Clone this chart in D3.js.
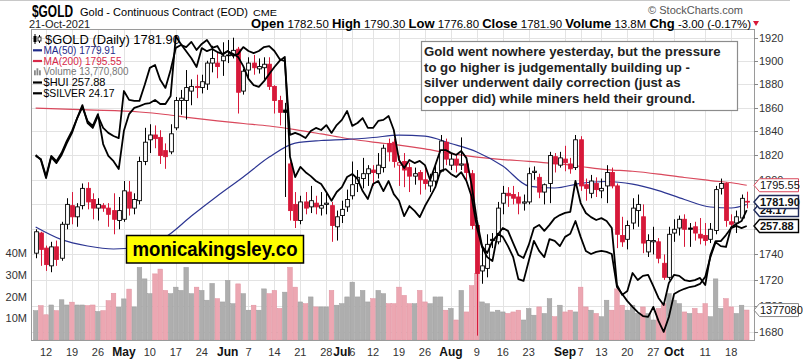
<!DOCTYPE html>
<html><head><meta charset="utf-8">
<script src="https://cdn.jsdelivr.net/npm/d3@7"></script>
<style>
body{margin:0;background:#fff;}
svg text{font-family:"Liberation Sans",Arial,sans-serif;}
</style></head><body>
<svg id="c" width="803" height="360"></svg>
<script>
// ---------------- DATA ----------------
const startDate = "2021-04-08", endDate = "2021-10-21";
const holidays = ["2021-05-31","2021-07-05","2021-09-06"];
const prevClose0 = 1741;
const open = [1741,1757,1745,1731,1746,1737,1764,1779,1770,1779,
1793,1784,1777,1779,1777,1775,1767,1768,1790,1777,
1783,1815,1833,1837,1835,1824,1823,1843,1866,1866,
1874,1878,1877,1880,1898,1898,1900,1905,1905,1910,
1874,1892,1898,1893,1894,1897,1878,1866,1858,1813,
1780,1767,1782,1778,1781,1777,1780,1779,1762,1771,
1778,1787,1797,1801,1805,1808,1805,1810,1830,1831,
1812,1815,1810,1803,1806,1800,1795,1799,1807,1831,
1812,1817,1812,1813,1805,1763,1727,1729,1752,1750,
1781,1789,1788,1786,1781,1782,1806,1802,1790,1797,
1819,1812,1817,1813,1810,1833,1796,1789,1797,1791,
1795,1806,1795,1755,1752,1765,1775,1770,1742,1750,
1750,1733,1722,1757,1761,1768,1761,1762,1756,1755,
1752,1759,1793,1797,1766,1765,1769,1782.5];
const high = [1760,1758,1747,1750,1751,1766,1785,1790,1781,1797,
1798,1789,1785,1781,1781,1789,1786,1799,1799,1789,
1819,1843,1846,1845,1841,1830,1846,1869,1875,1892,
1884,1888,1888,1900,1913,1908,1916,1918,1920,1912,
1893,1903,1905,1902,1903,1903,1879,1870,1864,1815,
1790,1787,1790,1795,1787,1790,1790,1782,1775,1783,
1792,1815,1808,1818,1812,1812,1822,1829,1834,1834,
1820,1822,1814,1810,1808,1812,1805,1812,1837,1834,
1822,1820,1835,1816,1808,1766,1746,1756,1757,1782,
1795,1794,1795,1790,1788,1810,1811,1805,1797,1823,
1822,1823,1828,1818,1837,1836,1801,1804,1802,1801,
1812,1810,1797,1770,1767,1785,1788,1780,1756,1762,
1753,1740,1762,1768,1771,1772,1765,1766,1769,1765,
1765,1795,1801,1798,1772,1775,1788,1790.3];
const low = [1737,1731,1727,1726,1731,1735,1760,1764,1762,1776,
1776,1768,1767,1774,1762,1756,1760,1766,1771,1772,
1780,1812,1822,1826,1813,1809,1821,1841,1854,1850,
1862,1868,1872,1875,1890,1885,1887,1898,1902,1855,
1871,1885,1888,1889,1884,1875,1855,1845,1786,1767,
1761,1764,1772,1773,1772,1771,1772,1750,1751,1765,
1774,1784,1790,1793,1795,1795,1801,1806,1815,1810,
1795,1794,1790,1796,1788,1792,1790,1795,1806,1812,
1808,1806,1808,1798,1760,1677,1717,1722,1745,1748,
1772,1778,1780,1772,1775,1780,1800,1785,1780,1781,
1806,1810,1807,1805,1808,1791,1783,1785,1786,1785,
1781,1793,1745,1746,1744,1760,1762,1741,1738,1740,
1733,1720,1720,1750,1755,1746,1746,1751,1748,1747,
1749,1756,1788,1762,1760,1757,1768,1776.8];
const close = [1758,1744,1732,1746,1736,1764,1780,1770,1778,1793,
1782,1777,1780,1777,1772,1768,1775,1791,1777,1784,
1815,1831,1837,1834,1820,1819,1838,1866,1868,1877,
1878,1877,1882,1898,1902,1895,1904,1905,1909,1873,
1891,1898,1894,1895,1897,1878,1866,1856,1856,1775,
1767,1782,1777,1783,1778,1779,1781,1763,1770,1776,
1784,1796,1802,1805,1809,1806,1812,1826,1823,1815,
1814,1808,1803,1805,1800,1797,1799,1806,1832,1817,
1817,1812,1813,1806,1763,1725,1731,1748,1751,1777,
1789,1787,1785,1781,1782,1805,1807,1790,1796,1820,
1813,1818,1814,1809,1833,1795,1793,1799,1792,1793,
1806,1795,1756,1750,1763,1777,1780,1749,1751,1751,
1737,1722,1756,1760,1768,1760,1760,1757,1753,1751,
1760,1792,1797,1767,1764,1770,1784.9,1781.9];
const volumeM = [13.5,15.8,11.6,16.1,13.5,18.5,16.1,17.4,16.1,16.1,
15.8,16.1,13.1,13.5,18.1,21.5,15.1,18.9,23.4,15.2,
33.4,28.1,21.3,30.4,32.6,22.8,21.3,24.3,22.8,33.4,
21.3,24.3,22.8,18.3,26.0,19.0,17.5,27.4,16.7,25.8,
21.3,13.7,16.0,13.7,23.5,21.3,22.8,14.5,22.0,33.4,
24.3,17.5,16.7,19.8,15.2,15.2,15.2,22.8,16.0,16.7,
19.8,26.6,19.8,22.8,17.5,19.0,22.8,21.3,16.7,16.7,
24.3,20.5,16.7,16.7,22.8,17.5,16.7,19.8,19.8,13.7,
14.5,9.2,22.8,12.9,25.0,30.5,17.5,16.7,12.9,13.7,
12.9,12.2,12.9,13.7,9.2,14.5,11.4,15.2,12.2,19.0,
10.7,16.0,12.9,13.7,12.9,24.3,15.2,13.7,12.2,10.7,
18.3,13.7,23.5,16.0,13.7,16.0,12.2,15.2,12.2,9.2,
14.5,16.7,21.3,18.3,16.7,12.9,12.2,14.5,12.2,16.7,
10.7,28.1,14.5,19.0,15.2,12.2,16.0,13.77];
const hui = [285.2,283.3,276.3,284.4,282.1,285.2,289.8,293.7,299.4,304.4,
297.5,295.6,300.2,295.6,293.7,292.5,291.7,309.8,306.4,306.0,
306.0,312.1,318.7,319.8,314.1,311.0,317.9,326.4,327.5,326.7,
328.7,325.6,327.9,329.4,326.4,327.1,323.7,325.2,323.3,324.0,
326.7,325.2,324.4,325.2,326.7,327.1,325.2,322.1,321.3,292.9,
293.7,292.9,291.7,294.4,295.6,294.8,296.7,293.7,296.7,298.7,
302.1,296.4,297.5,299.4,295.6,295.6,298.3,298.7,300.2,294.8,
283.3,280.2,283.3,282.1,282.9,281.3,275.6,281.3,287.1,287.1,
286.0,285.2,286.7,284.0,273.6,260.2,250.2,247.5,252.1,254.4,
257.1,256.0,251.3,246.7,245.6,250.6,257.1,258.3,256.0,258.3,
260.9,262.1,262.9,263.3,275.2,266.7,262.9,261.3,260.2,260.9,
259.8,257.1,235.2,231.4,232.9,239.8,237.1,238.7,239.1,234.8,
230.2,227.5,236.0,239.1,238.7,237.1,236.7,237.1,237.9,235.2,
246.7,252.1,252.1,254.4,257.1,257.9,257.1,257.88];
const silver = [25.40,25.33,24.94,25.40,25.28,25.47,25.74,25.97,26.26,26.51,
26.19,26.08,26.35,25.67,25.40,25.28,25.10,25.97,26.35,26.49,
26.53,26.58,26.60,26.67,26.58,26.58,26.76,28.12,27.94,27.78,
27.62,27.42,27.85,27.78,27.83,27.76,27.72,27.78,27.72,27.65,
27.44,27.15,27.01,26.97,27.10,27.26,27.42,27.56,27.65,25.38,
24.92,25.15,25.03,24.94,24.83,24.76,24.58,24.38,24.58,24.69,
24.92,24.99,24.88,24.60,24.42,24.76,24.83,24.60,24.83,24.53,
24.38,24.03,24.26,24.15,24.01,24.26,24.47,24.69,25.06,25.10,
24.99,24.92,25.03,24.83,24.47,23.78,23.33,23.10,23.01,23.63,
23.56,23.35,23.10,22.60,22.56,23.01,23.47,23.24,23.10,23.51,
23.47,23.35,23.56,23.63,23.92,23.56,23.24,23.17,23.22,23.24,
23.22,23.17,22.42,22.26,22.10,21.97,21.85,21.76,21.74,21.97,
21.65,21.40,21.74,22.26,22.33,22.38,22.42,22.44,22.49,22.65,
23.10,23.44,23.35,23.33,23.78,23.85,23.92,24.17];
const ma50Dates = ["2021-04-08","2021-04-15","2021-04-22","2021-04-29","2021-05-06","2021-05-13","2021-05-20","2021-05-27","2021-06-04","2021-06-11","2021-06-18","2021-06-25","2021-07-02","2021-07-12","2021-07-19","2021-07-26","2021-08-02","2021-08-09","2021-08-16","2021-08-23","2021-08-30","2021-09-07","2021-09-14","2021-09-21","2021-09-28","2021-10-05","2021-10-12","2021-10-18","2021-10-21"];
const ma50Values = [1761.8,1751.7,1746.7,1744.3,1746.7,1753.8,1770.6,1786.8,1802.3,1818.7,1830.3,1832.4,1833.3,1834.9,1836.9,1836.0,1829.9,1822.9,1811.3,1794.9,1793.3,1797.1,1798.6,1796.5,1791.2,1784.0,1777.9,1777.1,1779.91];
const ma200Dates = ["2021-04-08","2021-04-22","2021-05-06","2021-05-13","2021-05-20","2021-05-27","2021-06-04","2021-06-11","2021-06-18","2021-06-25","2021-07-02","2021-07-12","2021-07-19","2021-07-26","2021-08-02","2021-08-09","2021-08-16","2021-08-23","2021-08-30","2021-09-07","2021-09-14","2021-09-21","2021-09-28","2021-10-05","2021-10-12","2021-10-19","2021-10-21"];
const ma200Values = [1859.5,1858.0,1856.3,1854.2,1851.3,1848.8,1846.6,1844.5,1841.5,1837.9,1834.1,1831.1,1828.6,1825.4,1821.6,1818.7,1816.6,1815.2,1813.4,1810.9,1808.4,1807.0,1804.7,1801.9,1799.4,1797.0,1795.55];
const priceGrid = [1680,1700,1720,1740,1760,1780,1800,1820,1840,1860,1880,1900,1920];
const priceLabels = [1680,1700,1720,1740,1800,1820,1840,1860,1880,1900,1920];
const volTicks = [10,20,30,40];
const xLabelDates = ["2021-04-12","2021-04-19","2021-04-26","2021-05-03","2021-05-10","2021-05-17","2021-05-24","2021-06-01","2021-06-07","2021-06-14","2021-06-21","2021-06-28","2021-07-01","2021-07-06","2021-07-12","2021-07-19","2021-07-26","2021-08-02","2021-08-09","2021-08-16","2021-08-23","2021-09-01","2021-09-07","2021-09-13","2021-09-20","2021-09-27","2021-10-01","2021-10-11","2021-10-18"];
const xLabelTexts = ["12","19","26","May","10","17","24","Jun","7","14","21","28","Jul","6","12","19","26","Aug","9","16","23","Sep","7","13","20","27","Oct","11","18"];
const noteLines = ["Gold went nowhere yesterday, but the pressure","to go higher is judgementally building up -","silver underwent daily correction (just as","copper did) while miners held their ground."];

// ---------------- SETUP ----------------
const fmt = d3.timeFormat("%Y-%m-%d");
const dates = d3.timeDay.range(new Date(startDate+"T00:00"), d3.timeDay.offset(new Date(endDate+"T00:00"),1))
  .filter(d => d.getDay()!==0 && d.getDay()!==6 && !holidays.includes(fmt(d))).map(fmt);
const idx = s => dates.indexOf(s);

const svg = d3.select("#c");
const L = 31, R = 754, T = 29, B = 340;
const x = d3.scaleLinear().domain([-0.9, 138.4]).range([L, R]);
const y = d3.scaleLog().domain([1680, 1920]).range([331.7, 37.7]);
const yv = d3.scaleLinear().domain([0, 40]).range([B, 253]);
const yh = d3.scaleLinear().domain([200, 340]).range([376.5, 12.5]);
const ys = d3.scaleLinear().domain([20, 30]).range([393.5, -46.5]);
const RED = "#d7193a", PINK = "#eca7b2", GRAY = "#aeaeae";

svg.append("defs").append("clipPath").attr("id","pc").append("rect").attr("x",L).attr("y",T).attr("width",R-L).attr("height",B-T);

svg.append("line").attr("x1",0).attr("x2",790).attr("y1",0.5).attr("y2",0.5).attr("stroke","#c8c8c8");

// grid
const grid = svg.append("g");
priceGrid.forEach(p => grid.append("line").attr("x1",L).attr("x2",R).attr("y1",Math.round(y(p))+0.5).attr("y2",Math.round(y(p))+0.5).attr("stroke","#e3e3e3"));
xLabelDates.forEach(d => { const xx = Math.round(x(idx(d)))+0.5;
  grid.append("line").attr("x1",xx).attr("x2",xx).attr("y1",T).attr("y2",B).attr("stroke","#e3e3e3"); });

const plot = svg.append("g").attr("clip-path","url(#pc)");
// volume
dates.forEach((d,i) => {
  const pc = i===0 ? prevClose0 : close[i-1];
  const dn = close[i] < pc;
  plot.append("rect").attr("x", x(i)-2.3).attr("width",4.6)
    .attr("y", yv(volumeM[i])).attr("height", B - yv(volumeM[i]))
    .attr("fill", dn ? PINK : GRAY).attr("stroke", dn ? "#e0909e" : "#9c9c9c").attr("stroke-width",0.5);
});

// MA lines
const maLine = (ds, vs, col) => plot.append("path")
  .datum(ds.map((d,k)=>[x(idx(d)), y(vs[k])]))
  .attr("d", d3.line().curve(d3.curveMonotoneX)).attr("fill","none").attr("stroke",col).attr("stroke-width",1.2);
maLine(ma200Dates, ma200Values, "#d9485c");
maLine(ma50Dates, ma50Values, "#2c3592");

// candles
dates.forEach((d,i) => {
  const pc = i===0 ? prevClose0 : close[i-1];
  const col = close[i] < pc ? RED : "#000";
  const hollow = close[i] > open[i];
  const xx = Math.round(x(i)) + 0.5;
  const hi = Math.max(high[i], open[i], close[i]), lo = Math.min(low[i], open[i], close[i]);
  plot.append("line").attr("x1",xx).attr("x2",xx).attr("y1",y(hi)).attr("y2",y(lo)).attr("stroke",col).attr("stroke-width",1);
  const top = y(Math.max(open[i],close[i])), bot = y(Math.min(open[i],close[i]));
  plot.append("rect").attr("x",xx-1.9).attr("width",3.8).attr("y",top).attr("height",Math.max(0.8,bot-top))
    .attr("fill", hollow ? "#fff" : col).attr("stroke",col).attr("stroke-width",0.9);
});

// HUI & SILVER overlays
plot.append("path").datum(hui).attr("d", d3.line().x((v,i)=>x(i)).y(v=>yh(v))).attr("fill","none").attr("stroke","#000").attr("stroke-width",1.8).attr("stroke-linejoin","round");
plot.append("path").datum(silver).attr("d", d3.line().x((v,i)=>x(i)).y(v=>ys(v))).attr("fill","none").attr("stroke","#000").attr("stroke-width",1.8).attr("stroke-linejoin","round");

// frame
svg.append("rect").attr("x",L+0.5).attr("y",T+0.5).attr("width",R-L).attr("height",B-T).attr("fill","none").attr("stroke","#9a9a9a");

// right axis labels
priceGrid.forEach(p => svg.append("line").attr("x1",R).attr("x2",R+4).attr("y1",Math.round(y(p))+0.5).attr("y2",Math.round(y(p))+0.5).attr("stroke","#888"));
priceLabels.forEach(p => svg.append("text").attr("x",759).attr("y",y(p)+4).attr("font-size",11).attr("fill","#333").text(p));
// left volume labels
volTicks.forEach(v => svg.append("text").attr("x",27).attr("y",yv(v)+4).attr("text-anchor","end").attr("font-size",11).attr("fill","#333").text(v+"M"));

// bottom labels
xLabelDates.forEach((d,k) => {
  const bold = isNaN(+xLabelTexts[k]);
  svg.append("text").attr("x",x(idx(d))).attr("y",356).attr("text-anchor","middle")
    .attr("font-size", bold?12:11).attr("font-weight", bold?"bold":"normal").attr("fill", bold?"#111":"#333").text(xLabelTexts[k]);
});

// header
svg.append("text").attr("x",32).attr("y",17).attr("font-size",16).attr("font-weight","bold").attr("textLength",41).attr("lengthAdjust","spacingAndGlyphs").text("$GOLD");
svg.append("text").attr("x",80).attr("y",16).attr("font-size",11.5).attr("textLength",168).attr("lengthAdjust","spacingAndGlyphs").text("Gold - Continuous Contract (EOD)");
svg.append("text").attr("x",253).attr("y",16).attr("font-size",9.5).attr("textLength",24).attr("lengthAdjust","spacingAndGlyphs").text("CME");
svg.append("text").attr("x",29).attr("y",28).attr("font-size",11).attr("fill","#222").text("21-Oct-2021");
svg.append("text").attr("x",743).attr("y",14).attr("text-anchor","end").attr("font-size",11).attr("fill","#555").text("\u00A9 StockCharts.com");
const hdr = svg.append("text").attr("x",251).attr("y",28).attr("textLength",500).attr("lengthAdjust","spacingAndGlyphs");
[["Open"," 1782.50 "],["High"," 1790.30 "],["Low"," 1776.80 "],["Close"," 1781.90 "],["Volume"," 13.8M "],["Chg"," -3.00 (-0.17%)"]].forEach(([a,b]) => {
  hdr.append("tspan").attr("font-weight","bold").attr("font-size",12.5).text(a);
  hdr.append("tspan").attr("font-size",11).attr("xml:space","preserve").text(b);
});
svg.append("path").attr("d","M753,21 L759,21 L756,26 Z").attr("fill",RED);

// legend
const lg = svg.append("g");
lg.append("line").attr("x1",35).attr("x2",35).attr("y1",34).attr("y2",44).attr("stroke","#000");
lg.append("rect").attr("x",33.5).attr("y",36).attr("width",3).attr("height",6).attr("fill","#000");
lg.append("line").attr("x1",39.5).attr("x2",39.5).attr("y1",35).attr("y2",43).attr("stroke","#000");
lg.append("rect").attr("x",38).attr("y",37).attr("width",3).attr("height",4).attr("fill","#fff").attr("stroke","#000").attr("stroke-width",0.8);
lg.append("text").attr("x",45).attr("y",43.5).attr("font-size",12.5).attr("textLength",135).attr("lengthAdjust","spacingAndGlyphs").text("$GOLD (Daily) 1781.90");
const leg = [["MA(50) 1779.91","#1f2a8a",53.8,72],["MA(200) 1795.55","#d8294a",64.5,78],["Volume 13,770,800","#777",75.3,85],["$HUI 257.88","#000",86,62],["$SILVER 24.17","#000",96.8,71]];
leg.forEach(([t,c,yy,w],k) => {
  if (k===2) { [0,1,2].forEach(j => lg.append("rect").attr("x",34+j*2.5).attr("y",yy-7+(j===1?0:2)).attr("width",1.8).attr("height",j===1?7:5).attr("fill","#888")); }
  else lg.append("line").attr("x1",33).attr("x2",42).attr("y1",yy-3.5).attr("y2",yy-3.5).attr("stroke",c).attr("stroke-width",2.2);
  lg.append("text").attr("x",43.5).attr("y",yy).attr("font-size",10.5).attr("fill",c).attr("textLength",w).attr("lengthAdjust","spacingAndGlyphs").text(t);
});

// annotation box
svg.append("rect").attr("x",421.5).attr("y",41.5).attr("width",316).attr("height",69).attr("fill","#fff").attr("stroke","#8c8c8c").attr("stroke-width",1.2);
noteLines.forEach((t,k) => svg.append("text").attr("x",424).attr("y",56+k*15.6).attr("font-size",13.2).attr("font-weight","bold").attr("fill","#222").text(t));

// watermark box
svg.append("rect").attr("x",126.5).attr("y",235.5).attr("width",177).attr("height",27.5).attr("fill","#ffff00").attr("stroke","#000").attr("stroke-width",1.5);
svg.append("text").attr("x",215).attr("y",256).attr("text-anchor","middle").attr("font-size",20).attr("font-weight","bold").attr("textLength",165).attr("lengthAdjust","spacingAndGlyphs").text("monicakingsley.co");

// value tags
function tag(yy, txt, stroke, bold) {
  svg.append("path").attr("d",`M754,${yy} L759.5,${yy-6.5} L798.5,${yy-6.5} L798.5,${yy+6.5} L759.5,${yy+6.5} Z`)
    .attr("fill","#fff").attr("stroke",stroke).attr("stroke-width", bold?1.4:1);
  svg.append("text").attr("x",760).attr("y",yy+4).attr("font-size",11).attr("font-weight",bold?"bold":"normal").attr("fill","#111").text(txt);
}
tag(y(1795.55), "1795.55", "#d9485c", false);
tag(ys(24.17), "24.17", "#1f2a5a", true);
tag(y(1781.9), "1781.90", "#1f2a5a", true);
tag(yh(257.88), "257.88", "#000", true);
tag(yv(13.7708), "1377080", "#888", false);
</script>
</body></html>
